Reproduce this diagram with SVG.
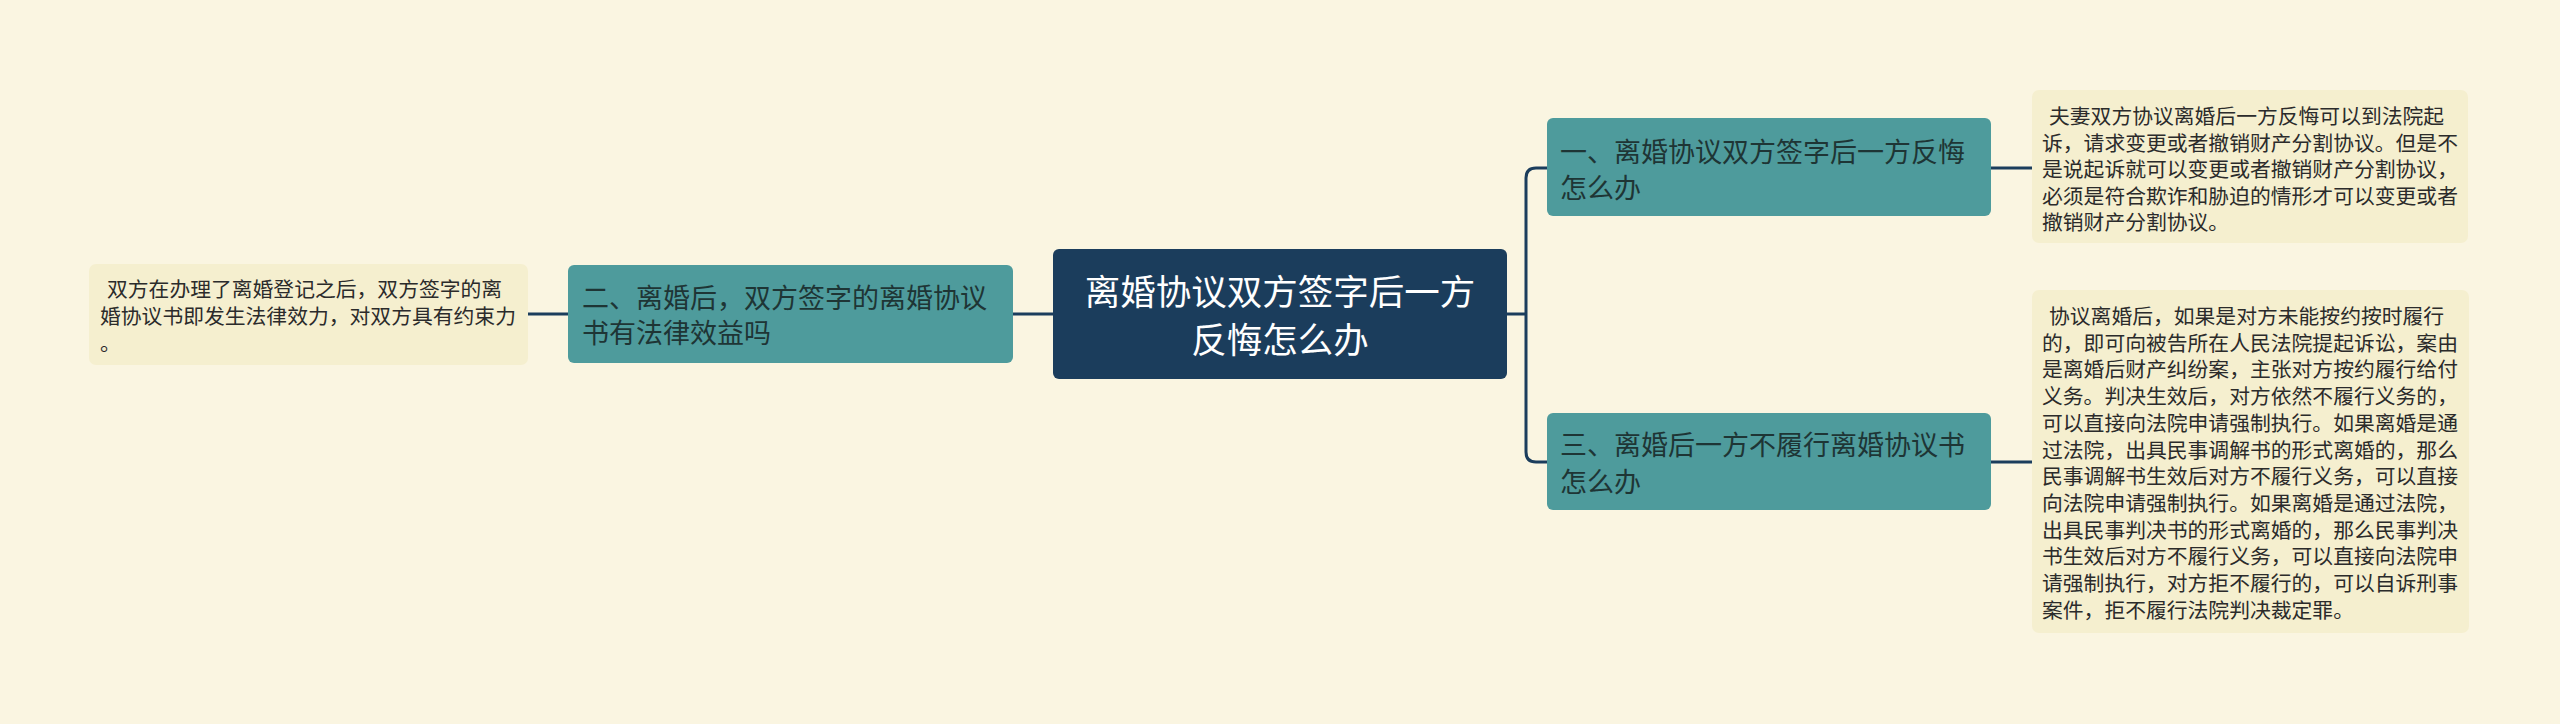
<svg xmlns="http://www.w3.org/2000/svg" width="2560" height="724" viewBox="0 0 2560 724">
<style>
.bg{fill:#faf5e1}
.conn{fill:none;stroke:#1b3d5c;stroke-width:3}
.root rect{fill:#1b3d5c}
.root text{fill:#ffffff;font-size:35.5px;text-anchor:middle}
.br rect{fill:#4e9b9c}
.br text{fill:#1e3535;font-size:27px}
.leaf rect{fill:#f5efcf}
.leaf text{fill:#2b2b2b;font-size:20.8px}
text{font-family:"Noto Sans CJK SC","Noto Sans",sans-serif}
</style>
<rect class="bg" x="0" y="0" width="2560" height="724"/>
<g id="connectors">
<path class="conn" d="M528 314 H568"/>
<path class="conn" d="M1013 314 H1053"/>
<path class="conn" d="M1507 314 H1526"/>
<path class="conn" d="M1547 168 H1536 Q1526 168 1526 178 V452 Q1526 462 1536 462 H1547"/>
<path class="conn" d="M1991 168 H2032"/>
<path class="conn" d="M1991 462 H2032"/>
</g>
<g id="root" class="root">
<rect x="1053" y="249" width="454" height="130" rx="6"/>
<text x="1280" y="305">离婚协议双方签字后一方</text>
<text x="1280" y="353">反悔怎么办</text>
</g>
<g id="node2" class="br">
<rect x="568" y="265" width="445" height="98" rx="6"/>
<text x="582" y="307.5">二、离婚后，双方签字的离婚协议</text>
<text x="582" y="342.5">书有法律效益吗</text>
</g>
<g id="leaf2" class="leaf">
<rect x="89" y="264" width="439" height="101" rx="7"/>
<text x="107" y="297">双方在办理了离婚登记之后，双方签字的离</text>
<text x="100" y="324">婚协议书即发生法律效力，对双方具有约束力</text>
<text x="100" y="351">。</text>
</g>
<g id="node1" class="br">
<rect x="1547" y="118" width="444" height="98" rx="6"/>
<text x="1560" y="161.5">一、离婚协议双方签字后一方反悔</text>
<text x="1560" y="197.5">怎么办</text>
</g>
<g id="leaf1" class="leaf">
<rect x="2032" y="90" width="436" height="153" rx="7"/>
<text x="2049" y="124">夫妻双方协议离婚后一方反悔可以到法院起</text>
<text x="2042" y="150.5">诉，请求变更或者撤销财产分割协议。但是不</text>
<text x="2042" y="177">是说起诉就可以变更或者撤销财产分割协议，</text>
<text x="2042" y="203.5">必须是符合欺诈和胁迫的情形才可以变更或者</text>
<text x="2042" y="230">撤销财产分割协议。</text>
</g>
<g id="node3" class="br">
<rect x="1547" y="413" width="444" height="97" rx="6"/>
<text x="1560" y="454.5">三、离婚后一方不履行离婚协议书</text>
<text x="1560" y="491.5">怎么办</text>
</g>
<g id="leaf3" class="leaf">
<rect x="2032" y="290" width="437" height="343" rx="7"/>
<text x="2049" y="324">协议离婚后，如果是对方未能按约按时履行</text>
<text x="2042" y="350.7">的，即可向被告所在人民法院提起诉讼，案由</text>
<text x="2042" y="377.4">是离婚后财产纠纷案，主张对方按约履行给付</text>
<text x="2042" y="404.1">义务。判决生效后，对方依然不履行义务的，</text>
<text x="2042" y="430.8">可以直接向法院申请强制执行。如果离婚是通</text>
<text x="2042" y="457.5">过法院，出具民事调解书的形式离婚的，那么</text>
<text x="2042" y="484.2">民事调解书生效后对方不履行义务，可以直接</text>
<text x="2042" y="510.9">向法院申请强制执行。如果离婚是通过法院，</text>
<text x="2042" y="537.6">出具民事判决书的形式离婚的，那么民事判决</text>
<text x="2042" y="564.3">书生效后对方不履行义务，可以直接向法院申</text>
<text x="2042" y="591">请强制执行，对方拒不履行的，可以自诉刑事</text>
<text x="2042" y="617.7">案件，拒不履行法院判决裁定罪。</text>
</g>
</svg>
